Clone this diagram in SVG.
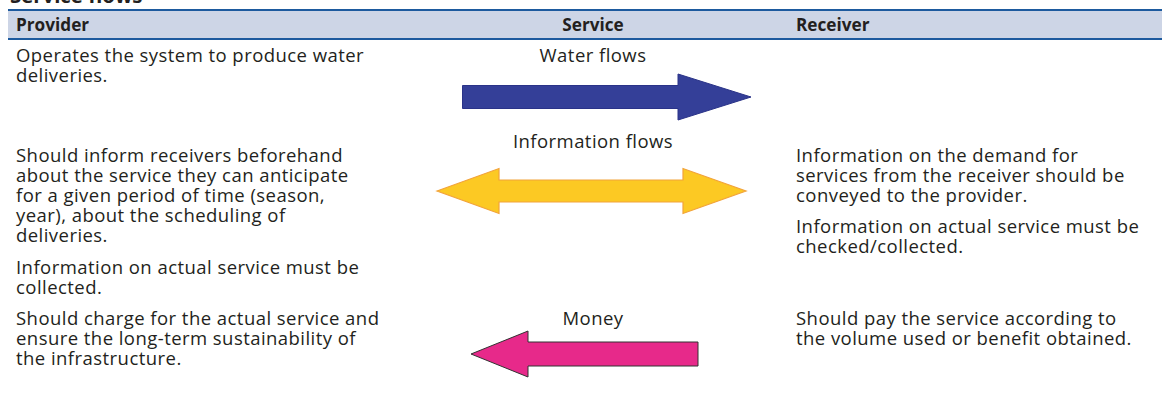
<svg xmlns="http://www.w3.org/2000/svg" width="1162" height="405" viewBox="0 0 1162 405">
<style>
  text { font-family: "Open Sans", "Noto Sans", "DejaVu Sans", sans-serif; fill: #231f20; }
  .body { font-size: 18.5px; letter-spacing: 0.45px; }
  .hdr { font-size: 17.2px; font-weight: bold; }
  .title { font-size: 20.4px; font-weight: bold; }
  .mid { text-anchor: middle; }
  .rule { stroke: #1d5a9e; stroke-width: 2; }
</style>
<rect width="1162" height="405" fill="#ffffff"/>
<text class="title" x="10" y="3">Service flows</text>
<g id="header">
  <rect x="8" y="10" width="1154" height="29" fill="#cdd5e6"/>
  <line class="rule" x1="8" y1="10" x2="1162" y2="10"/>
  <line class="rule" x1="8" y1="39" x2="1162" y2="39"/>
  <text class="hdr" x="16" y="31">Provider</text>
  <text class="hdr mid" x="593" y="31">Service</text>
  <text class="hdr" x="796" y="31">Receiver</text>
</g>
<g id="provider">
  <text class="body" x="16" y="62">Operates the system to produce water</text>
  <text class="body" x="16" y="82">deliveries.</text>
  <text class="body" x="16" y="162">Should inform receivers beforehand</text>
  <text class="body" x="16" y="182">about the service they can anticipate</text>
  <text class="body" x="16" y="202">for a given period of time (season,</text>
  <text class="body" x="16" y="222">year), about the scheduling of</text>
  <text class="body" x="16" y="242">deliveries.</text>
  <text class="body" x="16" y="274">Information on actual service must be</text>
  <text class="body" x="16" y="294">collected.</text>
  <text class="body" x="16" y="325">Should charge for the actual service and</text>
  <text class="body" x="16" y="345">ensure the long-term sustainability of</text>
  <text class="body" x="16" y="365">the infrastructure.</text>
</g>
<g id="receiver">
  <text class="body" x="796" y="162">Information on the demand for</text>
  <text class="body" x="796" y="182">services from the receiver should be</text>
  <text class="body" x="796" y="202">conveyed to the provider.</text>
  <text class="body" x="796" y="233">Information on actual service must be</text>
  <text class="body" x="796" y="253">checked/collected.</text>
  <text class="body" x="796" y="325">Should pay the service according to</text>
  <text class="body" x="796" y="345">the volume used or benefit obtained.</text>
</g>
<g id="connectors">
  <g id="water-flows">
    <text class="body mid" x="593" y="62">Water flows</text>
    <polygon points="462.5,85.5 678,85.5 678,74 751,97 678,120 678,108.5 462.5,108.5" fill="#343f98" stroke="#2a3388" stroke-width="1"/>
  </g>
  <g id="information-flows">
    <text class="body mid" x="593" y="148">Information flows</text>
    <polygon points="437,191 499,168.5 499,180 683,180 683,168.5 746,191 683,213.5 683,202 499,202 499,213.5" fill="#fcc923" stroke="#f2a33a" stroke-width="1.2"/>
  </g>
  <g id="money">
    <text class="body mid" x="593" y="325">Money</text>
    <polygon points="471,354 528,331 528,342 698,342 698,366 528,366 528,377" fill="#e7298a" stroke="#333333" stroke-width="1"/>
  </g>
</g>
</svg>
